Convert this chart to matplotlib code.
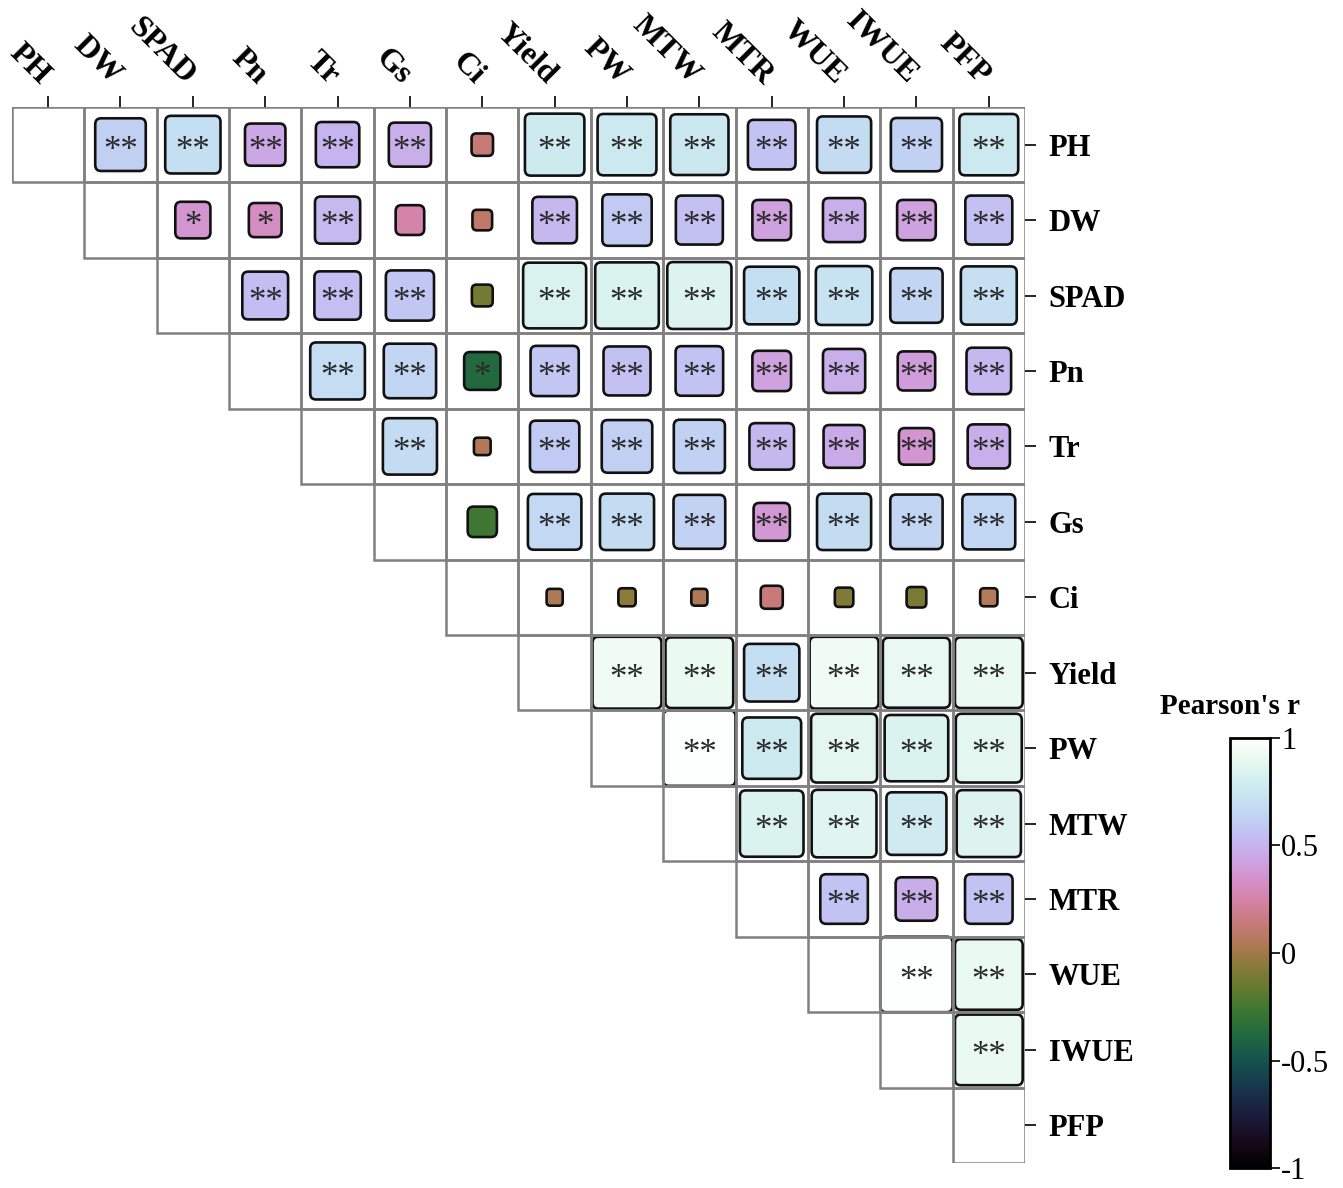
import matplotlib
matplotlib.use("Agg")
import matplotlib.pyplot as plt
from matplotlib.patches import FancyBboxPatch, Rectangle
from matplotlib.colors import Normalize
from matplotlib.cm import ScalarMappable
from matplotlib.transforms import ScaledTranslation

# --- data: upper triangle of the correlation matrix, row by row ---
variables = ["PH", "DW", "SPAD", "Pn", "Tr", "Gs", "Ci", "Yield",
             "PW", "MTW", "MTR", "WUE", "IWUE", "PFP"]

r_PH = [0.62, 0.70, 0.45, 0.50, 0.48, 0.13, 0.77, 0.76, 0.75, 0.57, 0.68, 0.63, 0.76]
r_DW = [0.36, 0.32, 0.53, 0.25, 0.10, 0.52, 0.60, 0.56, 0.42, 0.48, 0.42, 0.56]
r_SPAD = [0.54, 0.55, 0.58, -0.12, 0.83, 0.84, 0.85, 0.70, 0.72, 0.65, 0.71]
r_Pn = [0.69, 0.65, -0.38, 0.58, 0.56, 0.57, 0.42, 0.48, 0.40, 0.52]
r_Tr = [0.68, 0.05, 0.60, 0.62, 0.63, 0.52, 0.46, 0.36, 0.48]
r_Gs = [-0.26, 0.67, 0.68, 0.64, 0.38, 0.68, 0.65, 0.66]
r_Ci = [0.04, -0.06, 0.04, 0.14, -0.08, -0.10, 0.06]
r_Yield = [0.93, 0.91, 0.70, 0.93, 0.90, 0.91]
r_PW = [0.99, 0.76, 0.88, 0.84, 0.88]
r_MTW = [0.84, 0.86, 0.78, 0.85]
r_MTR = [0.57, 0.47, 0.57]
r_WUE = [0.99, 0.91]
r_IWUE = [0.91]

sig_PH = ["**", "**", "**", "**", "**", "", "**", "**", "**", "**", "**", "**", "**"]
sig_DW = ["*", "*", "**", "", "", "**", "**", "**", "**", "**", "**", "**"]
sig_SPAD = ["**", "**", "**", "", "**", "**", "**", "**", "**", "**", "**"]
sig_Pn = ["**", "**", "*", "**", "**", "**", "**", "**", "**", "**"]
sig_Tr = ["**", "", "**", "**", "**", "**", "**", "**", "**"]
sig_Gs = ["", "**", "**", "**", "**", "**", "**", "**"]
sig_Ci = ["", "", "", "", "", "", ""]
sig_Yield = ["**", "**", "**", "**", "**", "**"]
sig_PW = ["**", "**", "**", "**", "**"]
sig_MTW = ["**", "**", "**", "**"]
sig_MTR = ["**", "**", "**"]
sig_WUE = ["**", "**"]
sig_IWUE = ["**"]

r_rows = [r_PH, r_DW, r_SPAD, r_Pn, r_Tr, r_Gs, r_Ci, r_Yield, r_PW,
          r_MTW, r_MTR, r_WUE, r_IWUE, []]
sig_rows = [sig_PH, sig_DW, sig_SPAD, sig_Pn, sig_Tr, sig_Gs, sig_Ci,
            sig_Yield, sig_PW, sig_MTW, sig_MTR, sig_WUE, sig_IWUE, []]

n = len(variables)
cmap = plt.get_cmap("cubehelix")
norm = Normalize(vmin=-1, vmax=1)

serif = ["Liberation Serif", "DejaVu Serif"]

fig = plt.figure(figsize=(13.43, 11.88), dpi=100, facecolor="white")
ax = fig.add_axes([0.0089, 0.021, 0.7543, 0.889])
ax.set_xlim(0, n)
ax.set_ylim(n, 0)

# squares sized and coloured by r
for i in range(n):
    for k, r in enumerate(r_rows[i]):
        j = i + 1 + k
        s = min(1.0, 0.19 + 0.82 * abs(r))
        rnd = min(0.08, 0.22 * s)
        box = FancyBboxPatch((j + (1 - s) / 2, i + (1 - s) / 2), s, s,
                             boxstyle=f"round,pad=0,rounding_size={rnd}",
                             facecolor=cmap(norm(r)), edgecolor="#111111",
                             linewidth=1.9, zorder=2)
        ax.add_patch(box)
        star = sig_rows[i][k]
        if star:
            ax.text(j + 0.5, i + 0.70, star, ha="center", va="baseline",
                    fontsize=25, color="#2a2a2a", family=serif, zorder=4)

# cell outlines (upper triangle incl. diagonal), on top of the squares
for i in range(n):
    for j in range(i, n):
        ax.add_patch(Rectangle((j, i), 1, 1, facecolor="none",
                               edgecolor="#808080", linewidth=1.8, zorder=3))

for sp in ax.spines.values():
    sp.set_visible(False)

ax.xaxis.tick_top()
ax.yaxis.tick_right()
ax.set_xticks([i + 0.5 for i in range(n)])
ax.set_yticks([i + 0.5 for i in range(n)])
ax.set_xticklabels(variables, rotation=-45, ha="right", va="bottom",
                   fontsize=23, fontweight="bold", family=serif)
ax.set_yticklabels(variables, fontsize=22, fontweight="bold", family=serif)
ax.tick_params(axis="x", length=8, width=1.2, pad=4, colors="black")
ax.tick_params(axis="y", length=8, width=1.2, pad=9, colors="black")

# nudge top labels right so their ends sit over the ticks
shift = ScaledTranslation(7 / 100, 0, fig.dpi_scale_trans)
for lab in ax.get_xticklabels():
    lab.set_transform(lab.get_transform() + shift)

# colorbar
cax = fig.add_axes([0.9159, 0.0168, 0.0298, 0.362])
cb = fig.colorbar(ScalarMappable(norm=norm, cmap=cmap), cax=cax)
cb.set_ticks([-1, -0.5, 0, 0.5, 1])
cb.set_ticklabels(["-1", "-0.5", "0", "0.5", "1"])
cb.outline.set_linewidth(2)
cax.tick_params(length=7, width=1.2, labelsize=22, pad=1)
for lab in cax.get_yticklabels():
    lab.set_family(serif)
fig.text(1230 / 1343, 1 - 707 / 1188, "Pearson's r", ha="center",
         va="center", fontsize=21, fontweight="bold", family=serif)

fig.savefig("out.png", dpi=100, facecolor="white")
